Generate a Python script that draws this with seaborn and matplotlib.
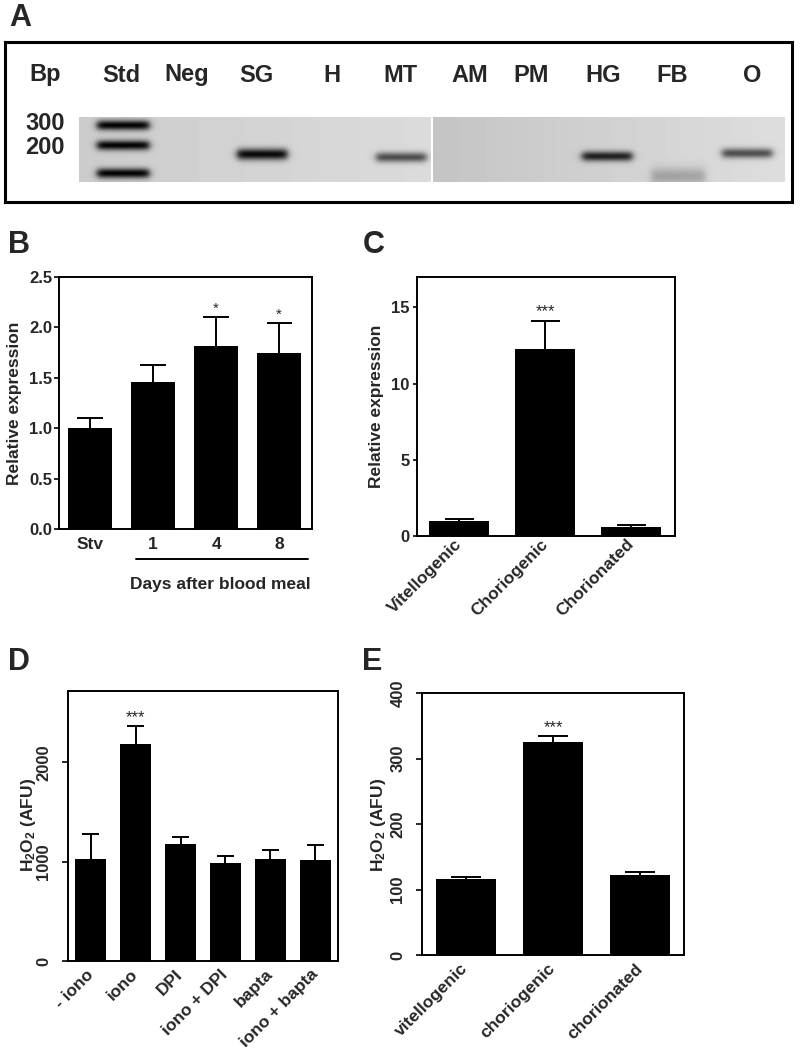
import numpy as np
import matplotlib
matplotlib.use("Agg")
import matplotlib.pyplot as plt
import seaborn as sns
from matplotlib.lines import Line2D

sns.set_theme(style="ticks")
plt.rcParams['font.family'] = ['Liberation Sans', 'DejaVu Sans']
plt.rcParams['font.weight'] = 'bold'
plt.rcParams['mathtext.fontset'] = 'custom'
plt.rcParams['mathtext.rm'] = 'Liberation Sans'
plt.rcParams['mathtext.bf'] = 'Liberation Sans:bold'

W, H = 800, 1056

# --- data ---
# A: RT-PCR gel
lanes = ['Bp', 'Std', 'Neg', 'SG', 'H', 'MT', 'AM', 'PM', 'HG', 'FB', 'O']
ladder_sizes = ['300', '200']
# bands: lane centre, band centre, half width, spread, darkness
band_x = [123, 123, 123, 262, 401, 607, 678, 747]
band_y = [125, 145, 173, 154, 157, 156, 176, 153]
band_hw = [26, 26, 26, 25, 25, 25, 27, 25]
band_sd = [3.5, 3.5, 3.5, 4.0, 3.5, 3.5, 6.0, 3.5]
band_k = [0.80, 0.80, 0.80, 0.80, 0.55, 0.70, 0.20, 0.55]

# B
b_groups = ['Stv', '1', '4', '8']
b_mean = [1.00, 1.46, 1.82, 1.75]
b_sem = [0.10, 0.17, 0.28, 0.29]
b_sig = ['', '', '*', '*']

# C
c_groups = ['Vitellogenic', 'Choriogenic', 'Chorionated']
c_mean = [1.00, 12.26, 0.59]
c_sem = [0.12, 1.88, 0.13]
c_sig = ['', '***', '']

# D
d_groups = ['- iono', 'iono', 'DPI', 'iono + DPI', 'bapta', 'iono + bapta']
d_mean = [1023, 2190, 1178, 990, 1030, 1017]
d_sem = [252, 176, 74, 70, 91, 147]
d_sig = ['', '***', '', '', '', '']

# E
e_groups = ['vitellogenic', 'choriogenic', 'chorionated']
e_mean = [115.7, 325.0, 122.8]
e_sem = [3.5, 9.5, 4.2]
e_sig = ['', '***', '']

fig = plt.figure(figsize=(8, 10.56), dpi=100)


def px_axes(x0, y0, x1, y1):
    return fig.add_axes([x0 / W, 1 - y1 / H, (x1 - x0) / W, (y1 - y0) / H])


def fig_text(x, y, s, **kw):
    fig.text(x / W, 1 - y / H, s, ha='center', va='center', **kw)


def gel_image(x0, x1, y0, y1, bg0, bg1):
    xs = np.arange(x0, x1, 0.5)
    ys = np.arange(y0, y1, 0.5)
    X, Y = np.meshgrid(xs, ys)
    img = bg0 + (bg1 - bg0) * (X - x0) / (x1 - x0)
    for cx, cy, hw, sd, k in zip(band_x, band_y, band_hw, band_sd, band_k):
        px = 1 / (1 + np.exp((np.abs(X - cx) - hw) / 2.0))
        py = np.exp(-0.5 * ((Y - cy) / sd) ** 2)
        img = img - k * px * py
    return img


# --- panel A ---
axA = px_axes(5, 42, 792, 202)
for x0, x1, bg0, bg1 in [(79, 431, 0.80, 0.86), (433, 785, 0.77, 0.87)]:
    axA.imshow(gel_image(x0, x1, 117, 182, bg0, bg1), cmap='gray', vmin=0, vmax=1,
               extent=(x0, x1, 182, 117), aspect='auto', interpolation='bilinear')
axA.set_xlim(5, 792)
axA.set_ylim(202, 42)
axA.set_xticks([])
axA.set_yticks([])
for sp in axA.spines.values():
    sp.set_linewidth(2.2)
    sp.set_color('black')
narrow = ['Liberation Sans Narrow', 'Liberation Sans']
lane_pos = [45, 121, 187, 256, 332, 400, 470, 531, 603, 672, 752]
for name, x in zip(lanes, lane_pos):
    axA.text(x, 75, name, ha='center', va='center', fontsize=17, fontweight='bold',
             family=narrow)
for s, y in zip(ladder_sizes, [123, 148]):
    axA.text(45, y, s, ha='center', va='center', fontsize=17, fontweight='bold',
             family=narrow)


def draw_bars(ax, groups, mean, sem, sig, cap, star_size):
    sns.barplot(x=groups, y=mean, color='black', width=0.69, saturation=1,
                edgecolor='black', linewidth=0, errorbar=None, ax=ax)
    pos = np.arange(len(groups))
    top = np.array(mean) + np.array(sem)
    ax.vlines(pos, mean, top, color='black', lw=1.4)
    ax.hlines(top, pos - cap, pos + cap, color='black', lw=1.4)
    for p, t, s in zip(pos, top, sig):
        if s:
            ax.annotate(s, (p, t), xytext=(0, 3), textcoords='offset points',
                        ha='center', va='baseline', fontsize=star_size,
                        fontweight='normal')
    for sp in ax.spines.values():
        sp.set_visible(True)
        sp.set_linewidth(1.4)
        sp.set_color('black')
    ax.set_xlabel('')
    ax.set_ylabel('')
    ax.tick_params(axis='x', length=0, labelsize=12.5)
    ax.tick_params(axis='y', width=1.4, labelsize=12)


# --- panel B ---
axB = px_axes(59, 277, 312, 529)
draw_bars(axB, b_groups, b_mean, b_sem, b_sig, 0.2, 11)
axB.set_xlim(-0.49, 3.52)
axB.set_ylim(0, 2.5)
axB.set_yticks([0, 0.5, 1.0, 1.5, 2.0, 2.5])
axB.set_yticklabels(['0.0', '0.5', '1.0', '1.5', '2.0', '2.5'])
axB.tick_params(axis='y', length=3.5, pad=1.5)
axB.tick_params(axis='x', pad=6)
fig.add_artist(Line2D([136 / W, 308 / W], [1 - 559 / H, 1 - 559 / H], color='black', lw=1.4))
fig_text(220, 585, 'Days after blood meal', fontsize=12.5, fontweight='bold')
fig_text(15, 403, 'Relative expression', fontsize=12.5, fontweight='bold', rotation=90)

# --- panel C ---
axC = px_axes(417, 277, 675, 536)
draw_bars(axC, c_groups, c_mean, c_sem, c_sig, 0.17, 12)
axC.set_xlim(-0.49, 2.51)
axC.set_ylim(0, 17)
axC.set_yticks([0, 5, 10, 15])
axC.tick_params(axis='y', length=3, pad=2.5)
axC.tick_params(axis='x', pad=4)
plt.setp(axC.get_xticklabels(), rotation=45, ha='right', va='center', rotation_mode='anchor')
fig_text(376, 406, 'Relative expression', fontsize=12.5, fontweight='bold', rotation=90)

# --- panel D ---
axD = px_axes(68, 691, 338, 961)
draw_bars(axD, d_groups, d_mean, d_sem, d_sig, 0.19, 12)
axD.set_xlim(-0.51, 5.51)
axD.set_ylim(0, 2720)
axD.set_yticks([0, 1000, 2000])
axD.tick_params(axis='y', length=4, pad=8, labelrotation=90)
axD.tick_params(axis='x', pad=8)
plt.setp(axD.get_xticklabels(), rotation=45, ha='right', va='center', rotation_mode='anchor')
for t in axD.get_yticklabels():
    t.set_va('center')
fig_text(28, 825, r'$\mathbf{H_2O_2}$ (AFU)', fontsize=12.5, fontweight='bold', rotation=90)

# --- panel E ---
axE = px_axes(422, 693, 684, 955)
draw_bars(axE, e_groups, e_mean, e_sem, e_sig, 0.17, 12)
axE.set_xlim(-0.5, 2.5)
axE.set_ylim(0, 400)
axE.set_yticks([0, 100, 200, 300, 400])
axE.tick_params(axis='y', length=4, pad=8, labelrotation=90)
axE.tick_params(axis='x', pad=8)
plt.setp(axE.get_xticklabels(), rotation=45, ha='right', va='center', rotation_mode='anchor')
for t in axE.get_yticklabels():
    t.set_va('center')
fig_text(378, 825, r'$\mathbf{H_2O_2}$ (AFU)', fontsize=12.5, fontweight='bold', rotation=90)

# panel letters
for letter, x, y in [('A', 20, 18), ('B', 19, 245), ('C', 374, 245), ('D', 19, 662), ('E', 372, 662)]:
    fig_text(x, y, letter, fontsize=22, fontweight='bold')

fig.savefig('out.png', dpi=100)
